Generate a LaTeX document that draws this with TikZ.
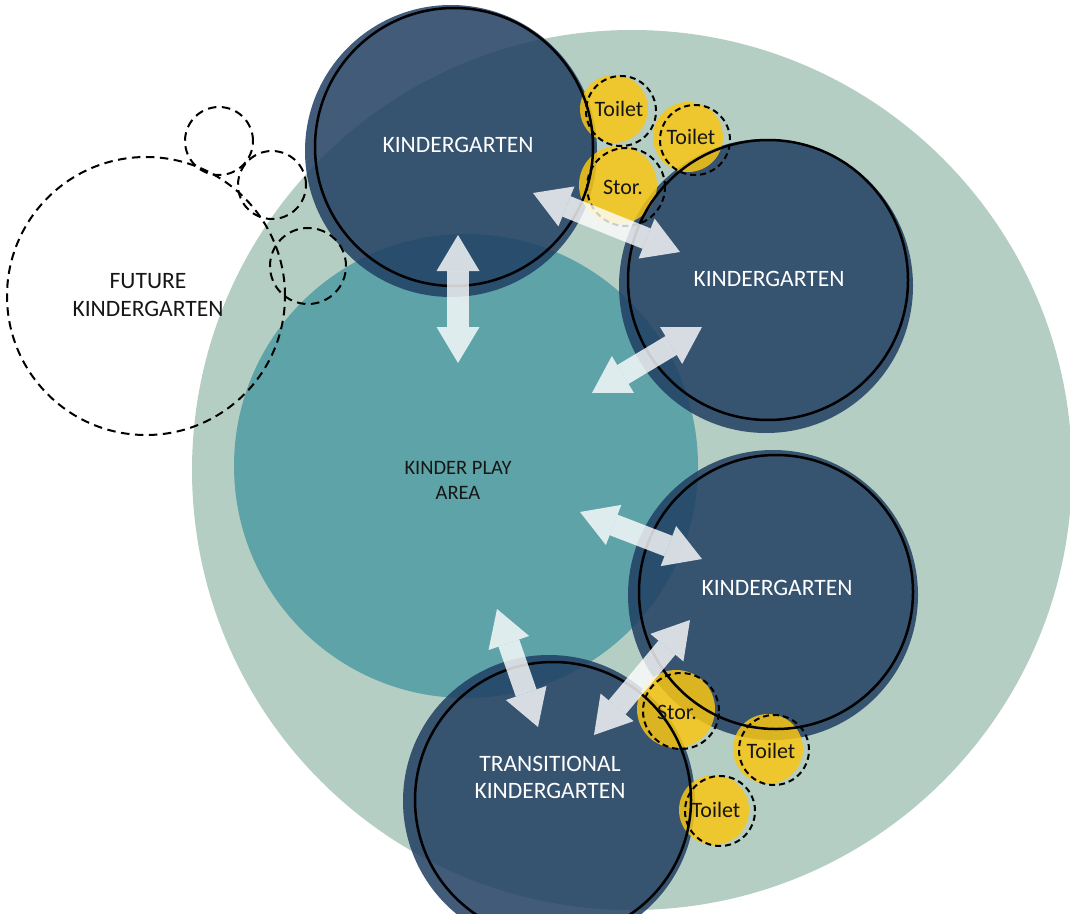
\documentclass[tikz,border=0pt]{standalone}
\usepackage{fontspec}
\setmainfont{Carlito}
\usetikzlibrary{arrows.meta}

\definecolor{sage}{RGB}{181,206,195}
\definecolor{playteal}{RGB}{94,163,168}
\definecolor{kgblue}{RGB}{32,62,98}
\definecolor{wcyellow}{RGB}{249,197,20}
\definecolor{ink}{RGB}{22,22,22}

\begin{document}
\begin{tikzpicture}[x=1pt, y=-1pt,
  zone/.style={circle, inner sep=0pt, minimum size=#1},
  kg/.style={zone=#1, fill=kgblue, fill opacity=0.85},
  kgrim/.style={zone=#1, draw=black, line width=2.5pt},
  wc/.style={zone=#1, fill=wcyellow, fill opacity=0.85},
  wcrim/.style={zone=#1, draw=black, line width=2pt, dash pattern=on 6pt off 4pt},
  future/.style={zone=#1, draw=black, line width=2pt, dash pattern=on 8.5pt off 5.5pt},
  kglabel/.style={text=white, font=\fontsize{23.5}{27}\selectfont, align=center},
  darklabel/.style={text=ink, font=\fontsize{23.5}{28}\selectfont, align=center},
  playlabel/.style={text=ink, font=\fontsize{20.5}{25}\selectfont, align=center},
  wclabel/.style={text=ink, font=\fontsize{22}{23}\selectfont},
  flow/.style={draw=white, opacity=0.8, line width=22pt,
               {Triangle[width=43pt,length=36pt,line width=0pt]}-{Triangle[width=43pt,length=36pt,line width=0pt]}}
]
  \useasboundingbox (0,0) rectangle (1070,920);
  \clip (0,0) rectangle (1070,913);

  \node[zone=880pt, fill=sage]     (site) at (632,470) {};
  \node[zone=464pt, fill=playteal] (play) at (466,466) {};

  \node[kg=292pt] (kgA) at (451,151) {};
  \node[kg=294pt] (kgB) at (766,286) {};
  \node[kg=290pt] (kgC) at (773,595) {};
  \node[kg=292pt] (kgT) at (549,801) {};

  \node[wc=68pt] (wcA1) at (614,109) {};
  \node[wc=70pt] (wcA2) at (688,137) {};
  \node[wc=78pt] (stA)  at (618,185) {};
  \node[wc=78pt] (stC)  at (676,709) {};
  \node[wc=70pt] (wcC1) at (768,749) {};
  \node[wc=70pt] (wcC2) at (714,810) {};

  \node[kgrim=278pt] (kgAr) at (454,147) {};
  \node[kgrim=280pt] (kgBr) at (768,280) {};
  \node[kgrim=274pt] (kgCr) at (776,592) {};
  \node[kgrim=276pt] (kgTr) at (553,800) {};

  \node[wcrim=70pt] (wcA1r) at (621,111) {};
  \node[wcrim=70pt] (wcA2r) at (695,140) {};
  \node[wcrim=78pt] (stAr)  at (626,187) {};
  \node[wcrim=76pt] (stCr)  at (681,711) {};
  \node[wcrim=70pt] (wcC1r) at (774,750) {};
  \node[wcrim=70pt] (wcC2r) at (720,811) {};

  \node[future=278pt] (fut)  at (146,296) {};
  \node[future=68pt]  (futa) at (219,141) {};
  \node[future=68pt]  (futb) at (272,185) {};
  \node[future=76pt]  (futc) at (308,266) {};

  \coordinate (a1s) at (458,235); \coordinate (a1e) at (458,363);
  \coordinate (a2s) at (533,193); \coordinate (a2e) at (680,252);
  \coordinate (a3s) at (702,327); \coordinate (a3e) at (592,393);
  \coordinate (a4s) at (580,512); \coordinate (a4e) at (702,559);
  \coordinate (a5s) at (690,620); \coordinate (a5e) at (594,735);
  \coordinate (a6s) at (497,609); \coordinate (a6e) at (538,727);
  \draw[flow] (a1s) -- (a1e);
  \draw[flow] (a2s) -- (a2e);
  \draw[flow] (a3s) -- (a3e);
  \draw[flow] (a4s) -- (a4e);
  \draw[flow] (a5s) -- (a5e);
  \draw[flow] (a6s) -- (a6e);

  \node[kglabel] (kgAl) at (458,145) {KINDERGARTEN};
  \node[kglabel] (kgBl) at (769,279) {KINDERGARTEN};
  \node[kglabel] (kgCl) at (777,588) {KINDERGARTEN};
  \node[kglabel] (kgTl) at (550,777) {TRANSITIONAL\\KINDERGARTEN};
  \node[playlabel] (playl) at (458,480) {KINDER PLAY\\AREA};
  \node[darklabel] (futl) at (148,295) {FUTURE\\KINDERGARTEN};

  \node[wclabel] (wcA1l) at (619,109) {Toilet};
  \node[wclabel] (wcA2l) at (691,137) {Toilet};
  \node[wclabel] (stAl)  at (623,187) {Stor.};
  \node[wclabel] (stCl)  at (677,712) {Stor.};
  \node[wclabel] (wcC1l) at (771,751) {Toilet};
  \node[wclabel] (wcC2l) at (716,810) {Toilet};
\end{tikzpicture}
\end{document}
